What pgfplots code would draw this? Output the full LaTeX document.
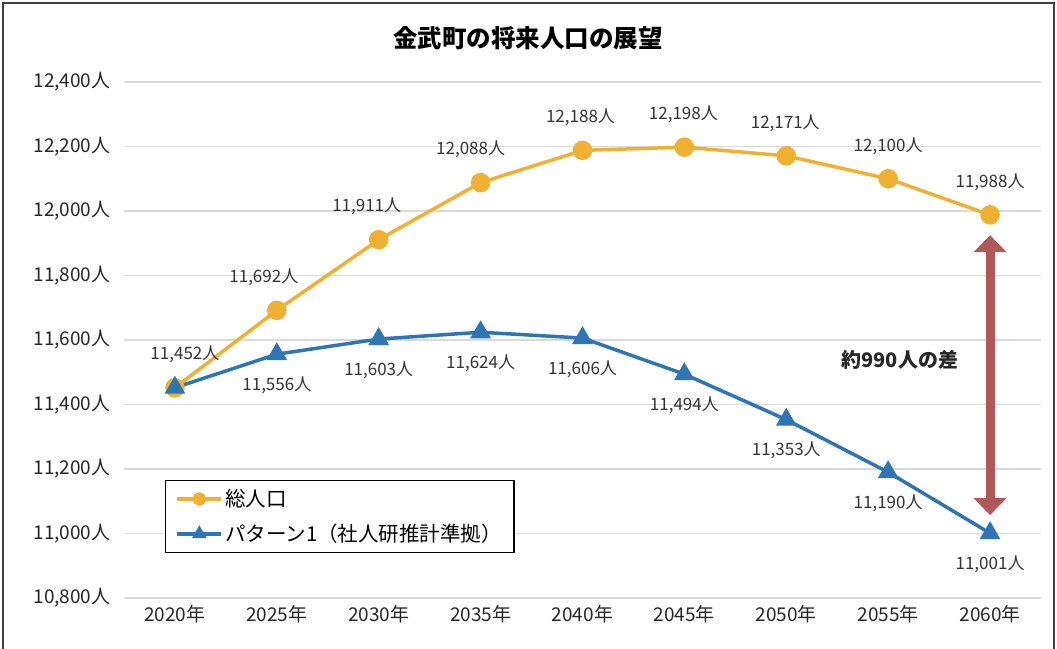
\documentclass[border=0pt]{standalone}
\usepackage{fontspec}
\setmainfont{Noto Sans CJK JP}
\usepackage{pgfplots}
\pgfplotsset{compat=1.18}
\usetikzlibrary{arrows.meta}
\definecolor{cOr}{RGB}{240,176,50}
\definecolor{cBl}{RGB}{46,117,182}
\definecolor{cAr}{RGB}{176,88,88}
\definecolor{cGr}{RGB}{217,217,217}
\pgfkeys{/pgf/number format/assume math mode=true}
\begin{document}
\begin{tikzpicture}
\useasboundingbox (-124pt,-50pt) rectangle (933pt,598pt);
\draw[line width=1.5pt, black!75] (-121pt,-52pt) -- (-121pt,595pt) -- (930pt,595pt) -- (930pt,-52pt);
\node[font=\bfseries\fontsize{24.5}{24.5}\selectfont] at (404pt,560pt) {金武町の将来人口の展望};
\begin{axis}[
  scale only axis, width=917pt, height=516pt,
  xmin=-0.5, xmax=8.5, ymin=10800, ymax=12400,
  axis line style={draw=none}, major tick length=0pt,
  scaled y ticks=false,
  xtick={0,...,8},
  xticklabels={2020年,2025年,2030年,2035年,2040年,2045年,2050年,2055年,2060年},
  ytick={10800,11000,...,12400},
  yticklabel={\pgfmathprintnumber[1000 sep={,},fixed,precision=0]{\tick}人},
  yticklabel style={font=\fontsize{19}{19}\selectfont, xshift=-10pt, text=black!85},
  xticklabel style={font=\fontsize{19}{19}\selectfont, yshift=-4pt, text=black!85},
  ymajorgrids, grid style={line width=1.5pt, color=cGr},
  clip=false,
  legend style={at={(0.0447,0.0872)}, anchor=south west, draw=black, line width=1.2pt,
    font=\fontsize{20.5}{20.5}\selectfont, row sep=12pt, inner xsep=10pt, inner ysep=7pt},
  legend cell align=left,
  legend image code/.code={\draw[mark repeat=2,mark phase=2,#1] plot coordinates {(0pt,0pt) (22pt,0pt) (44pt,0pt)};},
  legend image post style={mark size=5pt},
  nodes near coords style={font=\fontsize{17}{17}\selectfont, text=black!80},
]
\addplot[cOr, line width=3.5pt, mark=*, mark size=8pt,
  visualization depends on={\thisrow{dx}\as\dx},
  nodes near coords={\pgfmathprintnumber[1000 sep={,}]{\pgfplotspointmeta}人},
  point meta=y,
  every node near coord/.append style={anchor=center, xshift=\dx pt, yshift=33pt}]
  table {
x y dx
0 11452 10
1 11692 -13
2 11911 -12
3 12088 -10
4 12188 -2
5 12198 -1
6 12171 -1
7 12100 0
8 11988 0
};
\addlegendentry{総人口}
\addplot[cBl, line width=3.5pt, mark=triangle*, mark size=8.5pt]
  table {
x y
0 11452
1 11556
2 11603
3 11624
4 11606
5 11494
6 11353
7 11190
8 11001
};
\addlegendentry{パターン1（社人研推計準拠）}
\addplot[draw=none, mark=none, forget plot,
  nodes near coords={\pgfmathprintnumber[1000 sep={,}]{\pgfplotspointmeta}人},
  point meta=y,
  every node near coord/.append style={anchor=center, yshift=-31pt}]
  table {
x y
1 11556
2 11603
3 11624
4 11606
5 11494
6 11353
7 11190
8 11001
};
\draw[cAr, line width=9pt, {Triangle[width=32pt,length=17pt]}-{Triangle[width=32pt,length=17pt]}]
  (axis cs:8,11925) -- (axis cs:8,11057);
\node[font=\bfseries\fontsize{20}{20}\selectfont, text=black!85] at (axis cs:7.115,11538) {約990人の差};
\end{axis}
\end{tikzpicture}
\end{document}
